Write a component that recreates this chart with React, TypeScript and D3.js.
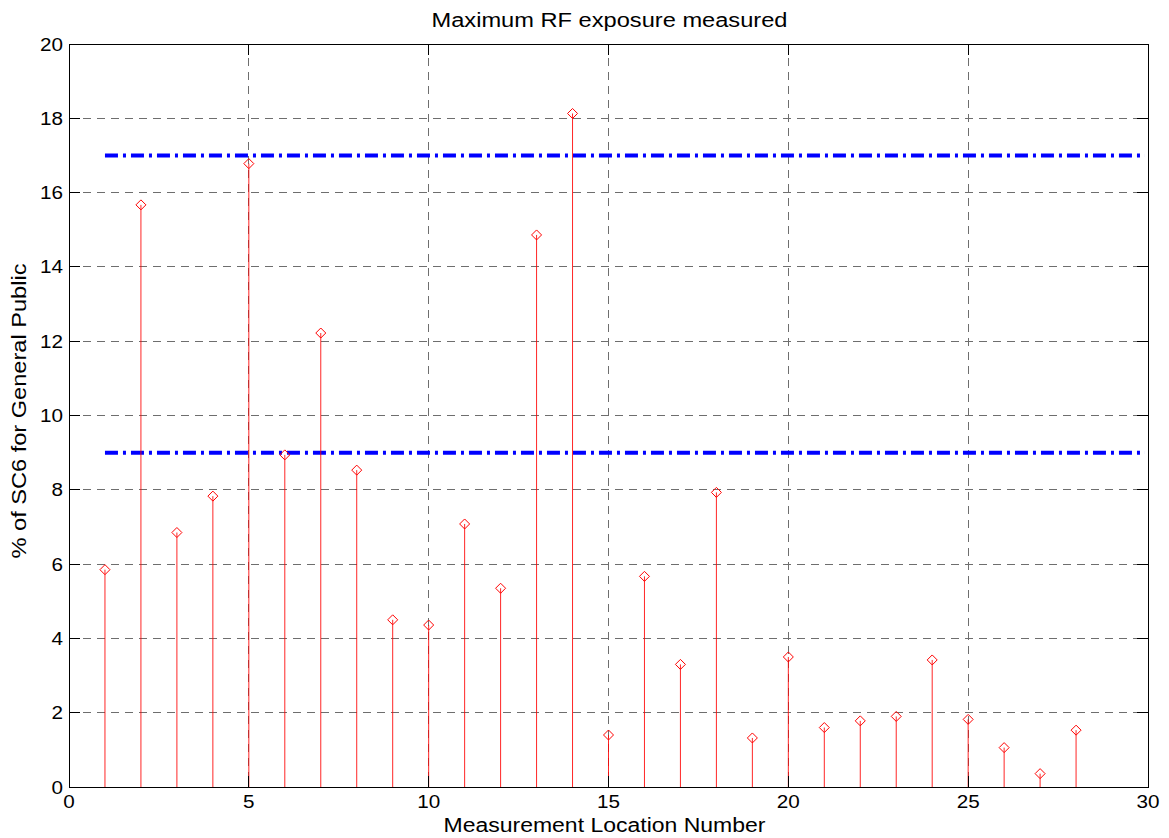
import React from 'react';
import * as d3 from 'd3';

// measurement locations and measured % of SC6
const locations = [1, 2, 3, 4, 5, 6, 7, 8, 9, 10, 11, 12, 13, 14, 15, 16, 17, 18, 19, 20, 21, 22, 23, 24, 25, 26, 27, 28];
const exposure = [5.85, 15.67, 6.85, 7.83, 16.78, 8.94, 12.22, 8.53, 4.5, 4.36, 7.08, 5.35, 14.86, 18.13, 1.4, 5.67, 3.3, 7.93, 1.32, 3.5, 1.6, 1.78, 1.9, 3.42, 1.82, 1.06, 0.36, 1.53];
const limitLevels = [17, 9];
const limitSpan = [1, 30];
const xTicks = [0, 5, 10, 15, 20, 25, 30];
const yTicks = [0, 2, 4, 6, 8, 10, 12, 14, 16, 18, 20];

const W = 1169;
const H = 838;
const m = { left: 69, right: 1148, top: 44, bottom: 787 };
const font = '"Liberation Sans", Arial, sans-serif';
// the exported text is a bit wider than plain Arial, stretch it
const digitW = 11.5;

const App = () => {
  const x = d3.scaleLinear().domain([0, 30]).range([m.left, m.right]);
  const y = d3.scaleLinear().domain([0, 20]).range([m.bottom, m.top]);
  const tick = 11;

  const diamond = (cx, cy) => `M${cx},${cy - 5}L${cx + 5},${cy}L${cx},${cy + 5}L${cx - 5},${cy}Z`;

  return (
    <svg width={W} height={H} style={{ position: 'absolute', left: 0, top: 0, background: '#fff' }}>
      <rect width={W} height={H} fill="#fff" />

      {/* grid */}
      {xTicks.slice(1, -1).map(t => (
        <line key={'gx' + t} x1={x(t)} x2={x(t)} y1={m.top} y2={m.bottom}
          stroke="#6e6e6e" strokeWidth={1} strokeDasharray="8,6" shapeRendering="crispEdges" />
      ))}
      {yTicks.slice(1, -1).map(t => (
        <line key={'gy' + t} x1={m.left} x2={m.right} y1={y(t)} y2={y(t)}
          stroke="#6e6e6e" strokeWidth={1} strokeDasharray="8,6" shapeRendering="crispEdges" />
      ))}

      {/* limit lines */}
      {limitLevels.map(v => (
        <line key={'lim' + v} x1={x(limitSpan[0])} x2={x(limitSpan[1]) - 3} y1={y(v)} y2={y(v)}
          stroke="#0000ff" strokeWidth={4} strokeDasharray="13,5,3,5" />
      ))}

      {/* stems */}
      {locations.map((loc, i) => (
        <g key={'s' + loc}>
          <line x1={x(loc)} x2={x(loc)} y1={y(0)} y2={y(exposure[i])}
            stroke="#ff0000" strokeWidth={1} opacity={0.85} />
          <path d={diamond(x(loc), y(exposure[i]))} fill="none" stroke="#ff0000" strokeWidth={1} />
        </g>
      ))}

      {/* axes box */}
      <rect x={m.left} y={m.top} width={m.right - m.left} height={m.bottom - m.top}
        fill="none" stroke="#000" strokeWidth={1} shapeRendering="crispEdges" />
      {xTicks.map(t => (
        <g key={'tx' + t}>
          <line x1={x(t)} x2={x(t)} y1={m.bottom} y2={m.bottom - tick} stroke="#000" shapeRendering="crispEdges" />
          <line x1={x(t)} x2={x(t)} y1={m.top} y2={m.top + tick} stroke="#000" shapeRendering="crispEdges" />
          <text x={x(t)} y={m.bottom + 21} textAnchor="middle" fontFamily={font} fontSize={18}
            textLength={String(t).length * digitW} lengthAdjust="spacingAndGlyphs">{t}</text>
        </g>
      ))}
      {yTicks.map(t => (
        <g key={'ty' + t}>
          <line x1={m.left} x2={m.left + tick} y1={y(t)} y2={y(t)} stroke="#000" shapeRendering="crispEdges" />
          <line x1={m.right} x2={m.right - tick} y1={y(t)} y2={y(t)} stroke="#000" shapeRendering="crispEdges" />
          <text x={m.left - 6} y={y(t) + 6.5} textAnchor="end" fontFamily={font} fontSize={18}
            textLength={String(t).length * digitW} lengthAdjust="spacingAndGlyphs">{t}</text>
        </g>
      ))}

      {/* labels */}
      <text x={(m.left + m.right) / 2 + 1} y={27} textAnchor="middle" fontFamily={font} fontSize={19.5}
        textLength={356} lengthAdjust="spacingAndGlyphs">
        Maximum RF exposure measured
      </text>
      <text x={(m.left + m.right) / 2 - 4} y={832} textAnchor="middle" fontFamily={font} fontSize={19.5}
        textLength={322} lengthAdjust="spacingAndGlyphs">
        Measurement Location Number
      </text>
      <text transform={`translate(26,411) rotate(-90)`} textAnchor="middle"
        fontFamily={font} fontSize={19.5} textLength={295} lengthAdjust="spacingAndGlyphs">
        % of SC6 for General Public
      </text>
    </svg>
  );
};

export default App;
